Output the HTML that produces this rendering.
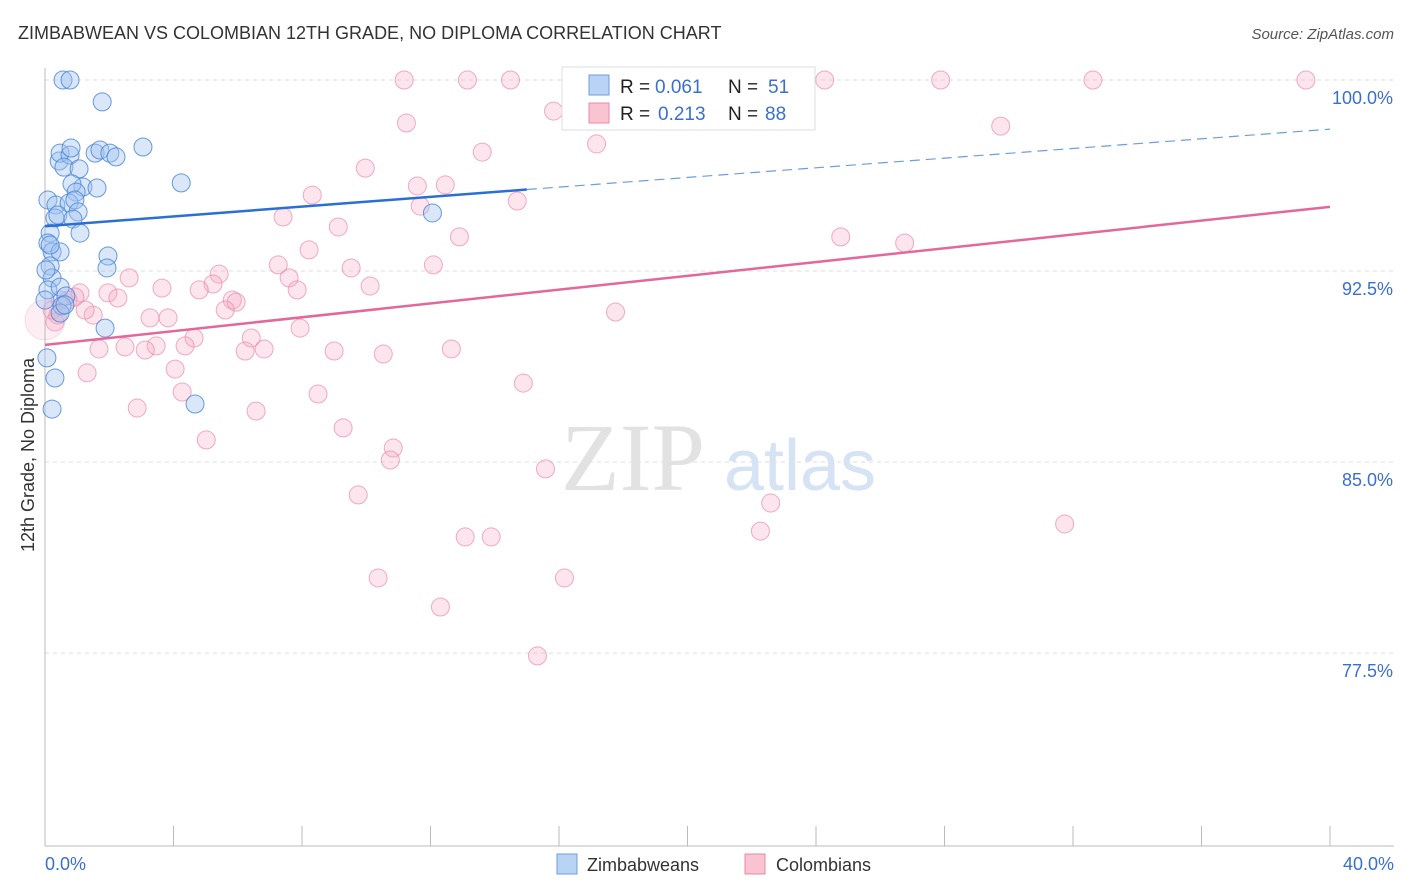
<!DOCTYPE html>
<html><head><meta charset="utf-8">
<style>
body{margin:0;background:#fff;font-family:"Liberation Sans",sans-serif;}
svg{display:block}
</style></head>
<body>
<svg id="chart" width="1406" height="892">
  <text x="18" y="39" font-size="18" fill="#333">ZIMBABWEAN VS COLOMBIAN 12TH GRADE, NO DIPLOMA CORRELATION CHART</text>
  <text x="1394" y="39" font-size="15" fill="#555" font-style="italic" text-anchor="end">Source: ZipAtlas.com</text>
  <text transform="translate(34,455) rotate(-90)" font-size="18" fill="#333" text-anchor="middle">12th Grade, No Diploma</text>
  <g id="grid"></g>
  <g id="ticks"></g>
  <line x1="45" y1="68" x2="45" y2="846" stroke="#bbb"/>
  <line x1="45" y1="846" x2="1394" y2="846" stroke="#bbb"/>
  <g id="xticks"></g>
  <text x="45" y="870" font-size="18" fill="#3a6fd1">0.0%</text>
  <text x="1394" y="870" font-size="18" fill="#3a6fd1" text-anchor="end">40.0%</text>
  <g>
    <text x="633" y="490" font-size="96" fill="#e2e2e2" font-family="Liberation Serif,serif" text-anchor="middle">ZIP</text>
    <text x="800" y="490" font-size="72" fill="#d6e3f5" text-anchor="middle">atlas</text>
  </g>
  <g id="pink"></g>
  <g id="blue"></g>
  <g id="lines"></g>
  <g font-size="19">
    <rect x="562" y="67" width="253" height="63" fill="#fff" stroke="#ddd"/>
    <rect x="589" y="75" width="20" height="20" fill="#b9d3f5" stroke="#6d9de0"/>
    <rect x="589" y="103" width="20" height="20" fill="#f9c3d2" stroke="#e88aa6"/>
    <text x="620" y="93" fill="#222">R =</text>
    <text x="655" y="93" fill="#3a6fd1">0.061</text>
    <text x="728" y="93" fill="#222">N =</text>
    <text x="768" y="93" fill="#3a6fd1">51</text>
    <text x="620" y="120" fill="#222">R =</text>
    <text x="658" y="120" fill="#3a6fd1">0.213</text>
    <text x="728" y="120" fill="#222">N =</text>
    <text x="765" y="120" fill="#3a6fd1">88</text>
  </g>
  <g>
    <rect x="557" y="854" width="20" height="20" fill="#b9d3f5" stroke="#6d9de0"/>
    <text x="587" y="871" font-size="18" fill="#333">Zimbabweans</text>
    <rect x="745" y="854" width="20" height="20" fill="#f9c3d2" stroke="#e88aa6"/>
    <text x="776" y="871" font-size="18" fill="#333">Colombians</text>
  </g>
</svg>
<script>
const yTicks=[100,92.5,85,77.5];
const yTickLabels=["100.0%","92.5%","85.0%","77.5%"];
const xTickVals=[0,4,8,12,16,20,24,28,32,36,40];
const blueX=[0.56,0.78,1.78,3.05,4.24,12.06,0.44,0.47,0.78,0.81,0.59,1.06,1.56,1.71,2.02,2.21,1.18,0.84,0.97,1.62,0.09,0.34,0.75,0.93,1.03,0.31,0.40,0.87,1.09,0.16,0.09,0.22,0.47,1.96,1.93,0.16,0.22,0.09,0.47,0.65,0.53,0.47,1.87,0.06,0.31,0.22,4.67,0.0,0.62,0.16,0.03];
const blueY=[100,100,99.14,97.37,95.96,94.78,96.82,97.13,97.05,97.33,96.58,96.51,97.13,97.25,97.13,96.98,95.80,95.92,95.60,95.76,95.29,95.09,95.17,95.29,94.82,94.58,94.70,94.54,93.99,93.99,93.60,93.25,93.25,93.09,92.62,92.70,92.23,91.76,91.87,91.52,91.13,90.85,90.26,89.09,88.30,87.08,87.28,91.36,91.17,93.52,92.54];
const pinkX=[11.18,13.15,14.49,24.27,27.88,32.62,39.25,15.83,11.25,29.75,13.61,17.17,9.97,8.32,11.59,12.46,14.70,11.68,7.41,9.13,12.90,8.22,24.77,26.76,7.26,9.53,12.09,5.42,2.62,5.23,7.60,7.85,10.12,3.64,4.80,1.09,1.96,2.27,5.83,5.95,0.72,5.61,17.76,1.50,3.27,3.83,7.94,4.64,6.42,3.46,4.36,1.68,2.49,3.12,6.23,6.82,9.00,10.53,12.65,4.05,1.31,14.89,4.27,8.50,2.87,6.57,5.02,9.28,10.84,10.75,15.58,9.75,22.59,22.27,31.74,13.08,13.89,10.37,16.17,12.31,15.33,0.22,0.31,0.47,0.93,1.25,0.40,0.0];
const pinkY=[100,100,100,100,100,100,100,98.78,98.31,98.19,97.17,97.49,96.54,95.48,95.84,95.88,95.25,95.05,94.62,94.23,93.84,93.33,93.84,93.60,92.74,92.62,92.74,92.38,92.23,91.99,92.23,91.76,91.91,91.83,91.76,91.64,91.64,91.44,91.36,91.28,91.36,90.97,90.89,90.77,90.66,90.66,90.26,89.87,89.87,89.56,89.56,89.44,89.52,89.40,89.36,89.44,89.36,89.24,89.44,88.65,88.50,88.10,87.75,87.67,87.12,87.00,85.87,86.34,85.55,85.08,84.73,83.71,83.39,82.29,82.57,82.06,82.06,80.45,80.45,79.31,77.39,90.97,90.50,91.36,91.48,90.97,90.77,90.58];
const pinkR=pinkX.map((v,i)=>i===pinkX.length-1?20:9);
const blueTrend=[94.26,95.7];
const blueTrendEnd=98.07;
const pinkTrend=[89.6,95.02];

const NS="http://www.w3.org/2000/svg";
const sx=v=>45+v*32.125;
const sy=v=>80+(100-v)*25.47;
function mk(tag,attrs,parent){const e=document.createElementNS(NS,tag);for(const k in attrs)e.setAttribute(k,attrs[k]);parent.appendChild(e);return e;}
const grid=document.getElementById('grid'),ticks=document.getElementById('ticks'),xt=document.getElementById('xticks');
yTicks.forEach((t,i)=>{
  const l=mk('line',{x1:45,x2:1394,y1:sy(t),y2:sy(t),stroke:'#ddd','stroke-dasharray':'4,4'},grid);
  
  
  const tx=mk('text',{x:1393,y:sy(t)+24,'font-size':18,fill:'#3a6fd1','text-anchor':'end'},ticks);
  tx.textContent=yTickLabels[i];
  
  
});
xTickVals.forEach(v=>{
  const l=mk('line',{x1:sx(v),x2:sx(v),y1:826,y2:846,stroke:'#bbb'},xt);
  
  
});
const pg=document.getElementById('pink');
pinkX.forEach((x,i)=>{
  const big=pinkR[i]>9;
  const c=mk('circle',{cx:sx(x),cy:sy(pinkY[i]),r:pinkR[i],fill:big?'rgba(246,170,195,0.2)':'rgba(246,170,195,0.3)',stroke:big?'rgba(232,130,162,0.25)':'rgba(232,130,162,0.65)','stroke-width':1},pg);
  
  
});
const bg=document.getElementById('blue');
blueX.forEach((x,i)=>{
  const c=mk('circle',{cx:sx(x),cy:sy(blueY[i]),r:9,fill:'rgba(160,196,240,0.4)',stroke:'rgba(70,130,215,0.8)','stroke-width':1},bg);
  
  
});
const lg=document.getElementById('lines');
let l1=mk('line',{x1:sx(0),y1:sy(blueTrend[0]),x2:sx(15),y2:sy(blueTrend[1]),stroke:'#2a6fd6','stroke-width':2.5},lg);


let l2=mk('line',{x1:sx(15),y1:sy(blueTrend[1]),x2:sx(40),y2:sy(blueTrendEnd),stroke:'#6d9de0','stroke-width':1.2,'stroke-dasharray':'10,6'},lg);


let l3=mk('line',{x1:sx(0),y1:sy(pinkTrend[0]),x2:sx(40),y2:sy(pinkTrend[1]),stroke:'#e4679a','stroke-width':2.5},lg);


</script>
</body></html>
